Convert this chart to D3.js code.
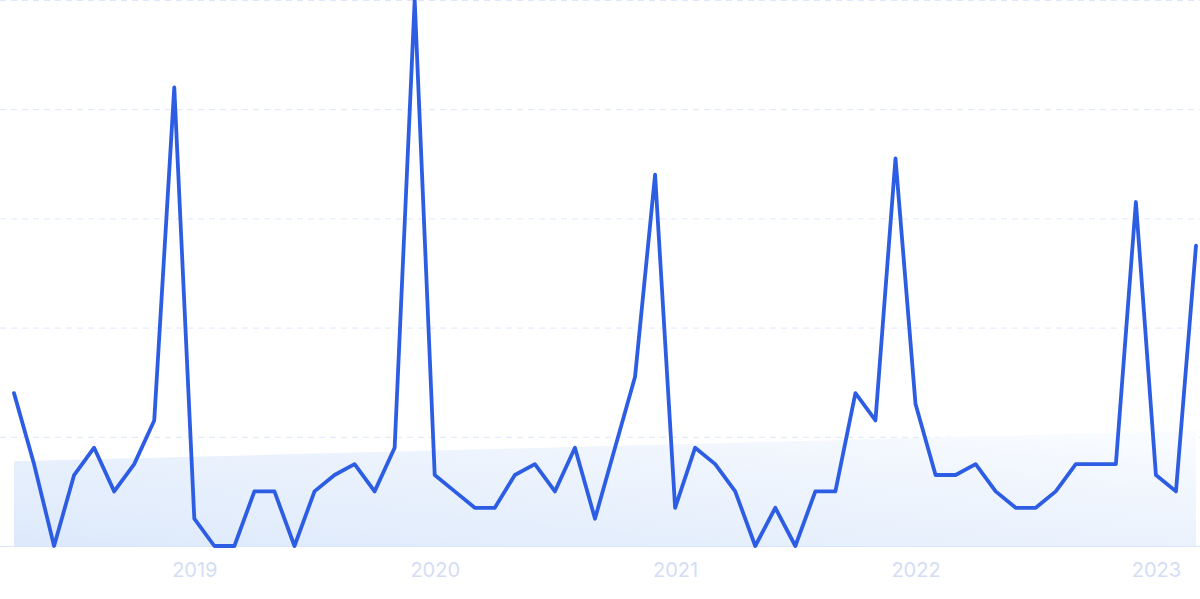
<!DOCTYPE html>
<html>
<head>
<meta charset="utf-8">
<script src="https://cdn.jsdelivr.net/npm/d3@7"></script>
<style>
  html, body { margin: 0; padding: 0; background: #ffffff; }
  svg { display: block; }
</style>
</head>
<body>
<svg id="chart" width="1200" height="599"></svg>
<script>
// ---- data ----
const months = [
  "2018-04","2018-05","2018-06","2018-07","2018-08","2018-09","2018-10","2018-11","2018-12",
  "2019-01","2019-02","2019-03","2019-04","2019-05","2019-06","2019-07","2019-08","2019-09","2019-10","2019-11","2019-12",
  "2020-01","2020-02","2020-03","2020-04","2020-05","2020-06","2020-07","2020-08","2020-09","2020-10","2020-11","2020-12",
  "2021-01","2021-02","2021-03","2021-04","2021-05","2021-06","2021-07","2021-08","2021-09","2021-10","2021-11","2021-12",
  "2022-01","2022-02","2022-03","2022-04","2022-05","2022-06","2022-07","2022-08","2022-09","2022-10","2022-11","2022-12",
  "2023-01","2023-02","2023-03"
];
const values = [
  28, 15, 0, 13, 18, 10, 15, 23, 84,
  5, 0, 0, 10, 10, 0, 10, 13, 15, 10, 18, 100,
  13, 10, 7, 7, 13, 15, 10, 18, 5, 18, 31, 68,
  7, 18, 15, 10, 0, 7, 0, 10, 10, 28, 23, 71,
  26, 13, 13, 15, 10, 7, 7, 10, 15, 15, 15, 63,
  13, 10, 55
];
const yTicks = [0, 20, 40, 60, 80, 100];
const xTicks = ["2019-01", "2020-01", "2021-01", "2022-01", "2023-01"];

// ---- layout ----
const W = 1200, H = 599;
const svg = d3.select("#chart");
const x = d3.scalePoint().domain(months).range([14, 1196]);
const y = d3.scaleLinear().domain([0, 100]).range([546, 0]);

// gradient for trend area
const defs = svg.append("defs");
const grad = defs.append("linearGradient").attr("id", "trendGrad")
  .attr("x1", "0%").attr("y1", "100%").attr("x2", "100%").attr("y2", "0%");
grad.append("stop").attr("offset", "0%").attr("stop-color", "#dde9fb");
grad.append("stop").attr("offset", "55%").attr("stop-color", "#ecf3fd");
grad.append("stop").attr("offset", "100%").attr("stop-color", "#fafcff");

// gridlines
svg.append("g").selectAll("line").data(yTicks.filter(d => d > 0)).join("line")
  .attr("x1", 0).attr("x2", W)
  .attr("y1", d => y(d) + 0.5).attr("y2", d => y(d) + 0.5)
  .attr("stroke", "#dde7fb").attr("stroke-width", 1)
  .attr("stroke-dasharray", "6,5");

// linear trend (least squares) area
const mx = d3.mean(values, (d, i) => i), my = d3.mean(values);
const sxy = d3.sum(values, (d, i) => (i - mx) * (d - my));
const sxx = d3.sum(values, (d, i) => (i - mx) * (i - mx));
const slope = sxy / sxx, intercept = my - slope * mx;
const trend = months.map((m, i) => ({ m, v: intercept + slope * i }));
svg.append("path").datum(trend)
  .attr("fill", "url(#trendGrad)")
  .attr("d", d3.area().x(d => x(d.m)).y0(y(0)).y1(d => y(d.v)));

// baseline
svg.append("line")
  .attr("x1", 0).attr("x2", W).attr("y1", y(0) + 0.5).attr("y2", y(0) + 0.5)
  .attr("stroke", "#d8e5fa").attr("stroke-width", 1);

// x axis
const xAxis = d3.axisBottom(x).tickValues(xTicks).tickFormat(d => d.slice(0, 4)).tickSize(0).tickPadding(0);
const gx = svg.append("g").attr("transform", "translate(0,563)").call(xAxis);
gx.select(".domain").remove();
gx.selectAll("text")
  .attr("dy", "0.71em")
  .attr("fill", "#d3ddf5")
  .style("font-family", "Inter, 'Open Sans', sans-serif")
  .style("font-size", "20px");

// line
svg.append("path").datum(values)
  .attr("fill", "none")
  .attr("stroke", "#2d5de3")
  .attr("stroke-width", 3.8)
  .attr("stroke-linejoin", "round")
  .attr("stroke-linecap", "round")
  .attr("d", d3.line().x((d, i) => x(months[i])).y(d => y(d)));
</script>
</body>
</html>
